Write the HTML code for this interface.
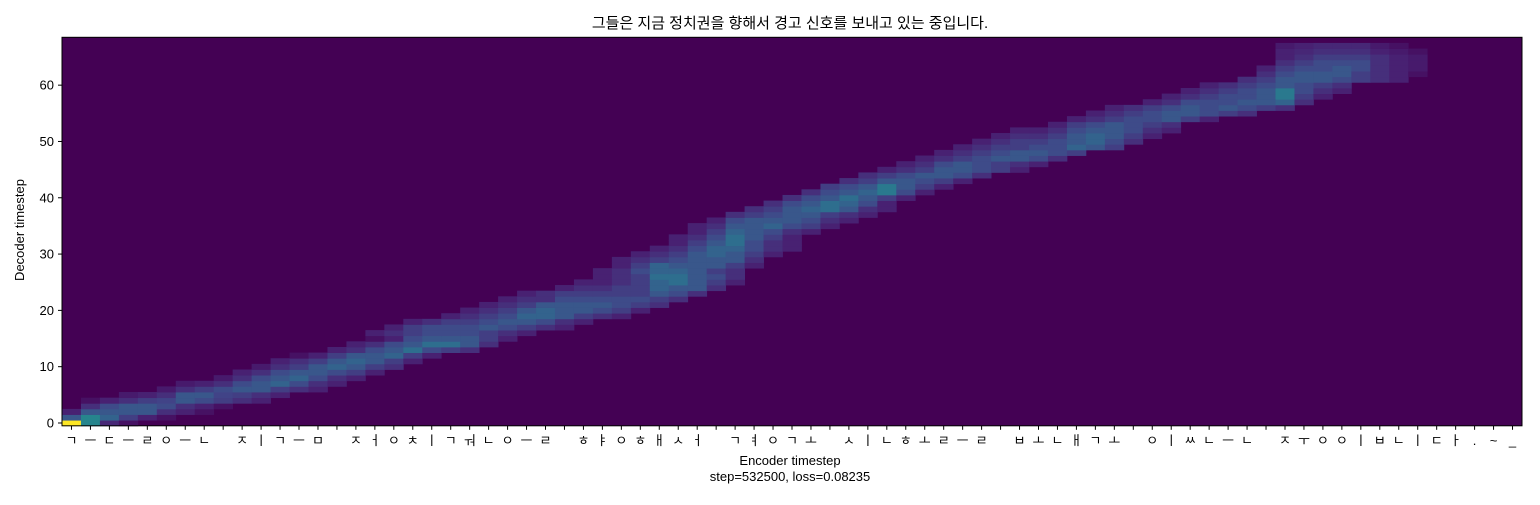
<!DOCTYPE html>
<html><head><meta charset="utf-8"><style>
body{margin:0;background:#fff;}
svg text{font-family:"Liberation Sans","Noto Sans CJK KR",sans-serif;fill:#000;}
</style></head><body>
<svg id="chart" width="1540" height="500" xmlns="http://www.w3.org/2000/svg">
<text x="790" y="28" font-size="15" text-anchor="middle">그들은 지금 정치권을 향해서 경고 신호를 보내고 있는 중입니다.</text>
<g id="cells"></g>
<rect x="62" y="37.3" width="1460" height="388.5" fill="none" stroke="#000" stroke-width="1"/>
<g id="xt"></g>
<g id="yt"></g>
<text x="790" y="465" font-size="13" text-anchor="middle">Encoder timestep</text>
<text x="790" y="481" font-size="13" text-anchor="middle">step=532500, loss=0.08235</text>
<text x="24" y="230" font-size="13" text-anchor="middle" transform="rotate(-90 24 230)">Decoder timestep</text>
</svg>
<script>
const encoderLabels = ["ㄱ","ㅡ","ㄷ","ㅡ","ㄹ","ㅇ","ㅡ","ㄴ"," ","ㅈ","ㅣ","ㄱ","ㅡ","ㅁ"," ","ㅈ","ㅓ","ㅇ","ㅊ","ㅣ","ㄱ","ㅝ","ㄴ","ㅇ","ㅡ","ㄹ"," ","ㅎ","ㅑ","ㅇ","ㅎ","ㅐ","ㅅ","ㅓ"," ","ㄱ","ㅕ","ㅇ","ㄱ","ㅗ"," ","ㅅ","ㅣ","ㄴ","ㅎ","ㅗ","ㄹ","ㅡ","ㄹ"," ","ㅂ","ㅗ","ㄴ","ㅐ","ㄱ","ㅗ"," ","ㅇ","ㅣ","ㅆ","ㄴ","ㅡ","ㄴ"," ","ㅈ","ㅜ","ㅇ","ㅇ","ㅣ","ㅂ","ㄴ","ㅣ","ㄷ","ㅏ",".","~","_"];
const yTicks = [0,10,20,30,40,50,60];
const nDecoder = 69;
const rowStarts = [0,0,0,1,1,3,5,6,8,9,10,11,12,14,15,16,16,17,18,20,21,22,23,24,26,27,28,28,29,29,30,31,32,32,33,33,34,35,36,37,38,39,40,41,42,43,44,45,46,47,48,49,50,52,53,54,55,57,58,59,60,62,63,63,64,64,64,64,0];
const rowValues = [
[1.0,0.5,0.12,0.05],
[0.3,0.5,0.35,0.2,0.1,0.05],
[0.1,0.3,0.3,0.3,0.3,0.15,0.1,0.05],
[0.15,0.25,0.3,0.3,0.25,0.15,0.1,0.05],
[0.05,0.1,0.15,0.2,0.22,0.3,0.25,0.2,0.15,0.1],
[0.08,0.1,0.15,0.3,0.3,0.22,0.2,0.15,0.1],
[0.08,0.15,0.2,0.25,0.3,0.3,0.2,0.15,0.1],
[0.08,0.1,0.15,0.25,0.3,0.35,0.25,0.15,0.1],
[0.08,0.15,0.25,0.3,0.35,0.25,0.15,0.1],
[0.1,0.15,0.25,0.3,0.3,0.25,0.2,0.1],
[0.08,0.15,0.2,0.3,0.35,0.3,0.2,0.15],
[0.1,0.15,0.2,0.3,0.35,0.3,0.2,0.1],
[0.05,0.1,0.2,0.3,0.3,0.35,0.2,0.1],
[0.1,0.15,0.25,0.3,0.4,0.25,0.2,0.15],
[0.1,0.15,0.25,0.3,0.4,0.4,0.3,0.15],
[0.05,0.1,0.25,0.3,0.3,0.3,0.2,0.1],
[0.1,0.15,0.2,0.25,0.25,0.25,0.2,0.15,0.1],
[0.1,0.2,0.25,0.25,0.25,0.3,0.25,0.2,0.15,0.1],
[0.1,0.15,0.2,0.2,0.25,0.3,0.3,0.25,0.15,0.1],
[0.1,0.15,0.2,0.25,0.35,0.35,0.3,0.2,0.15,0.1],
[0.1,0.15,0.2,0.3,0.35,0.3,0.3,0.25,0.2,0.1],
[0.1,0.15,0.2,0.3,0.3,0.3,0.3,0.25,0.2,0.15],
[0.1,0.15,0.15,0.25,0.25,0.25,0.25,0.25,0.2,0.15],
[0.1,0.15,0.2,0.2,0.2,0.2,0.2,0.3,0.25,0.15],
[0.1,0.15,0.15,0.2,0.2,0.35,0.3,0.3,0.15],
[0.1,0.1,0.15,0.2,0.35,0.4,0.3,0.2,0.1],
[0.1,0.15,0.2,0.4,0.4,0.3,0.25,0.15],
[0.1,0.15,0.25,0.35,0.35,0.3,0.2,0.15],
[0.1,0.2,0.35,0.3,0.3,0.3,0.2,0.1],
[0.1,0.15,0.2,0.25,0.3,0.3,0.3,0.15],
[0.1,0.15,0.2,0.3,0.35,0.3,0.2,0.1],
[0.1,0.15,0.25,0.35,0.35,0.25,0.15,0.1],
[0.1,0.2,0.3,0.4,0.25,0.15,0.1],
[0.1,0.15,0.25,0.4,0.3,0.2,0.1],
[0.1,0.2,0.35,0.3,0.25,0.15,0.1],
[0.1,0.15,0.3,0.3,0.35,0.25,0.2,0.1],
[0.1,0.25,0.3,0.3,0.3,0.25,0.15,0.1],
[0.15,0.2,0.25,0.3,0.3,0.2,0.15,0.1],
[0.15,0.2,0.3,0.35,0.4,0.3,0.15,0.1],
[0.15,0.25,0.3,0.4,0.35,0.25,0.1],
[0.15,0.25,0.3,0.4,0.3,0.2,0.1],
[0.15,0.25,0.3,0.35,0.45,0.25,0.1],
[0.2,0.25,0.3,0.45,0.3,0.2,0.1],
[0.15,0.2,0.3,0.3,0.25,0.2,0.1],
[0.15,0.2,0.25,0.3,0.3,0.25,0.15],
[0.1,0.15,0.2,0.3,0.3,0.25,0.2,0.1],
[0.1,0.15,0.25,0.3,0.25,0.2,0.15,0.1],
[0.1,0.15,0.2,0.25,0.3,0.3,0.25,0.15],
[0.1,0.15,0.2,0.25,0.3,0.3,0.25,0.2],
[0.1,0.15,0.2,0.2,0.25,0.25,0.35,0.3,0.2],
[0.1,0.15,0.2,0.2,0.25,0.3,0.35,0.25,0.15],
[0.1,0.15,0.15,0.2,0.3,0.35,0.3,0.2,0.1],
[0.1,0.1,0.15,0.25,0.3,0.3,0.25,0.15,0.1],
[0.1,0.2,0.25,0.3,0.25,0.2,0.15],
[0.1,0.15,0.2,0.25,0.25,0.3,0.2,0.1],
[0.1,0.15,0.2,0.25,0.3,0.3,0.25,0.2,0.15],
[0.1,0.15,0.2,0.25,0.3,0.25,0.3,0.25,0.2,0.15],
[0.1,0.15,0.25,0.25,0.25,0.3,0.3,0.35,0.15],
[0.1,0.15,0.2,0.25,0.25,0.3,0.45,0.2,0.1],
[0.1,0.15,0.2,0.25,0.3,0.45,0.25,0.15,0.1],
[0.1,0.15,0.2,0.25,0.3,0.25,0.2,0.15],
[0.15,0.2,0.3,0.3,0.3,0.25,0.2,0.15,0.1],
[0.15,0.25,0.3,0.3,0.3,0.2,0.15,0.1,0.05],
[0.1,0.2,0.25,0.25,0.3,0.25,0.15,0.1,0.08],
[0.15,0.2,0.25,0.25,0.25,0.15,0.1,0.08],
[0.1,0.15,0.2,0.2,0.2,0.15,0.1,0.08],
[0.1,0.12,0.15,0.15,0.15,0.1,0.08,0.05],
[0.08,0.1,0.12,0.12,0.12,0.08,0.05],
[]
];

const VIR = ["#440154","#482475","#414487","#355f8d","#2a788e","#21918c","#22a884","#44bf70","#7ad151","#bddf26","#fde725"];
function hex(h){return [parseInt(h.slice(1,3),16),parseInt(h.slice(3,5),16),parseInt(h.slice(5,7),16)];}
function viridis(v){
  if(v<0.9) v=v*0.9;
  v=Math.max(0,Math.min(1,v))*10; const i=Math.min(9,Math.floor(v)), f=v-i;
  const a=hex(VIR[i]), b=hex(VIR[i+1]);
  return "rgb("+a.map((c,k)=>Math.round(c+(b[k]-c)*f)).join(",")+")";
}
const X0=62, W=1460, YB=425.8, H=388.5;
const nEnc = encoderLabels.length;
const cw = W/nEnc, rh = H/nDecoder;
function xCol(c){return X0 + c*cw;}
function yRow(r){return YB - (r+0.5)*rh;}
const NS="http://www.w3.org/2000/svg";
const cells=document.getElementById('cells');
const bg=document.createElementNS(NS,'rect');
bg.setAttribute('x',X0);bg.setAttribute('y',YB-H);bg.setAttribute('width',W);bg.setAttribute('height',H);bg.setAttribute('fill',viridis(0));


cells.appendChild(bg);
rowValues.forEach((vals,r)=>{
  vals.forEach((v,k)=>{
    const c=rowStarts[r]+k;
    if(c>=nEnc) return;
    const el=document.createElementNS(NS,'rect');
    el.setAttribute('x',xCol(c));el.setAttribute('y',yRow(r+0.5));
    el.setAttribute('width',cw+0.4);el.setAttribute('height',rh+0.4);
    el.setAttribute('fill',viridis(v));
    
    
    cells.appendChild(el);
  });
});
const xt=document.getElementById('xt');
encoderLabels.forEach((l,c)=>{
  const x=xCol(c+0.5);
  const t=document.createElementNS(NS,'line');
  t.setAttribute('x1',x);t.setAttribute('x2',x);t.setAttribute('y1',YB);t.setAttribute('y2',YB+4);t.setAttribute('stroke','#000');
  
  
  xt.appendChild(t);
  const tx=document.createElementNS(NS,'text');
  tx.setAttribute('x',x);tx.setAttribute('y',YB+19);tx.setAttribute('font-size','13');tx.setAttribute('text-anchor','middle');
  tx.textContent=l;
  
  
  xt.appendChild(tx);
});
const yt=document.getElementById('yt');
yTicks.forEach(v=>{
  const y=yRow(v);
  const t=document.createElementNS(NS,'line');
  t.setAttribute('x1',X0-4);t.setAttribute('x2',X0);t.setAttribute('y1',y);t.setAttribute('y2',y);t.setAttribute('stroke','#000');
  
  
  yt.appendChild(t);
  const tx=document.createElementNS(NS,'text');
  tx.setAttribute('x',X0-8);tx.setAttribute('y',y+4.5);tx.setAttribute('font-size','13');tx.setAttribute('text-anchor','end');
  tx.textContent=v;
  
  
  yt.appendChild(tx);
});
</script>
</body></html>
